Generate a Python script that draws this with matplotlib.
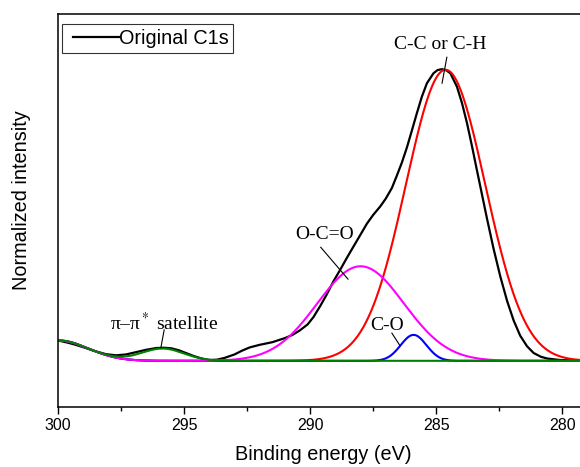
import numpy as np
import matplotlib
matplotlib.use("Agg")
import matplotlib.pyplot as plt
from matplotlib.legend_handler import HandlerLine2D

plt.rcParams['font.family'] = ['Liberation Sans', 'DejaVu Sans']
plt.rcParams['mathtext.fontset'] = 'stix'

# measured C1s spectrum (binding energy in eV, normalized intensity)
be_raw = [300.0, 299.6, 299.3, 298.9, 298.6, 298.1, 297.7, 297.3, 296.9, 296.5,
          296.1, 295.8, 295.5, 295.2, 294.9, 294.6, 294.3, 294.0, 293.7, 293.4,
          293.0, 292.7, 292.4, 292.0, 291.5, 291.0, 290.7, 290.4, 290.1, 289.87,
          289.6, 289.34, 289.08, 288.81, 288.55, 288.28, 288.0, 287.75, 287.5, 287.22,
          287.0, 286.76, 286.56, 286.36, 286.16, 285.96, 285.77, 285.57, 285.37, 285.11,
          284.95, 284.77, 284.6, 284.44, 284.18, 283.98, 283.78, 283.58, 283.39, 283.25,
          283.12, 282.99, 282.73, 282.46, 282.19, 281.93, 281.67, 281.40, 281.14, 280.85,
          280.6, 280.1, 279.3]
int_raw = [0.070, 0.062, 0.055, 0.044, 0.035, 0.023, 0.019, 0.022, 0.030, 0.038,
           0.044, 0.045, 0.043, 0.036, 0.026, 0.016, 0.008, 0.003, 0.004, 0.010,
           0.022, 0.035, 0.046, 0.055, 0.064, 0.078, 0.089, 0.105, 0.125, 0.150,
           0.188, 0.228, 0.272, 0.312, 0.352, 0.392, 0.433, 0.470, 0.500, 0.529,
           0.556, 0.592, 0.635, 0.680, 0.732, 0.791, 0.848, 0.905, 0.951, 0.985,
           0.996, 0.999, 0.995, 0.985, 0.939, 0.883, 0.814, 0.734, 0.654, 0.596,
           0.542, 0.488, 0.385, 0.289, 0.205, 0.138, 0.086, 0.050, 0.027, 0.014,
           0.008, 0.003, 0.001]

# fitted components: C-C/C-H, C-O, O-C=O, pi-pi* satellite
comp_center = [284.63, 285.90, 288.0, 295.85]
comp_height = [0.997, 0.089, 0.324, 0.042]
comp_fwhm = [3.70, 1.20, 4.05, 2.00]
comp_color = ['#ff0000', '#0000ff', '#ff00ff', '#008000']

# high binding energy background tail
bg_center, bg_height, bg_fwhm = 300.0, 0.070, 2.83


def gauss(x, c, h, fwhm):
    s = fwhm / 2.3548
    return h * np.exp(-(x - c) ** 2 / (2 * s ** 2))


class IndentedLine(HandlerLine2D):
    # legend line that starts a little in from the frame
    def get_xdata(self, legend, xdescent, ydescent, width, height, fontsize):
        xd = [-xdescent + 0.3 * fontsize, -xdescent + width]
        return xd, [-xdescent + 0.5 * width]


x = np.linspace(279.3, 300.0, 800)
bg = gauss(x, bg_center, bg_height, bg_fwhm)

fig = plt.figure(figsize=(5.8, 4.67), dpi=100)
ax = fig.add_axes([58 / 580, 1 - 407 / 467, 522 / 580, 393 / 467])

raw_line, = ax.plot(be_raw, int_raw, color='black', lw=1.6, label='Original C1s')
for c, h, w, col in zip(comp_center, comp_height, comp_fwhm, comp_color):
    ax.plot(x, bg + gauss(x, c, h, w), color=col, lw=1.5)

ax.set_xlim(300, 279.3)
ax.set_ylim(-0.158, 1.188)
ax.set_xticks([300, 295, 290, 285, 280])
ax.set_xticks([297.5, 292.5, 287.5, 282.5], minor=True)
ax.set_yticks([])
ax.tick_params(axis='x', which='major', direction='out', length=5, width=1,
               labelsize=11.5, pad=3)
ax.tick_params(axis='x', which='minor', direction='out', length=3, width=1)
ax.spines['right'].set_visible(False)
for s in ['left', 'top', 'bottom']:
    ax.spines[s].set_linewidth(1.1)

ax.set_xlabel('Binding energy (eV)', fontsize=14.3)
ax.set_ylabel('Normalized intensity', fontsize=14.3)
ax.xaxis.set_label_coords(0.508, -0.097)
ax.yaxis.set_label_coords(-0.052, 0.527)

leg = ax.legend(handler_map={raw_line: IndentedLine()}, loc='upper left',
                bbox_to_anchor=(0.008, 0.975), borderaxespad=0,
                fontsize=14.3, frameon=True, fancybox=False, handlelength=2.6,
                handletextpad=0.0, borderpad=0.25)
leg.get_frame().set_edgecolor('black')
leg.get_frame().set_linewidth(0.8)

serif = ['Liberation Serif', 'DejaVu Serif']
notes = [('C-C or C-H', 284.84, 1.082, (284.58, 284.77), (1.040, 0.951)),
         ('O-C=O', 289.44, 0.432, (289.58, 288.50), (0.389, 0.280)),
         ('C-O', 286.94, 0.120, (286.76, 286.43), (0.095, 0.051)),
         (r'π–π$^*$ satellite', 295.79, 0.130, (295.79, 295.92), (0.106, 0.045))]
for txt, tx, ty, lx, ly in notes:
    ax.text(tx, ty, txt, fontsize=14, family=serif, ha='center', va='center')
    ax.plot(lx, ly, color='black', lw=0.8)

fig.savefig('out.png', dpi=100)
